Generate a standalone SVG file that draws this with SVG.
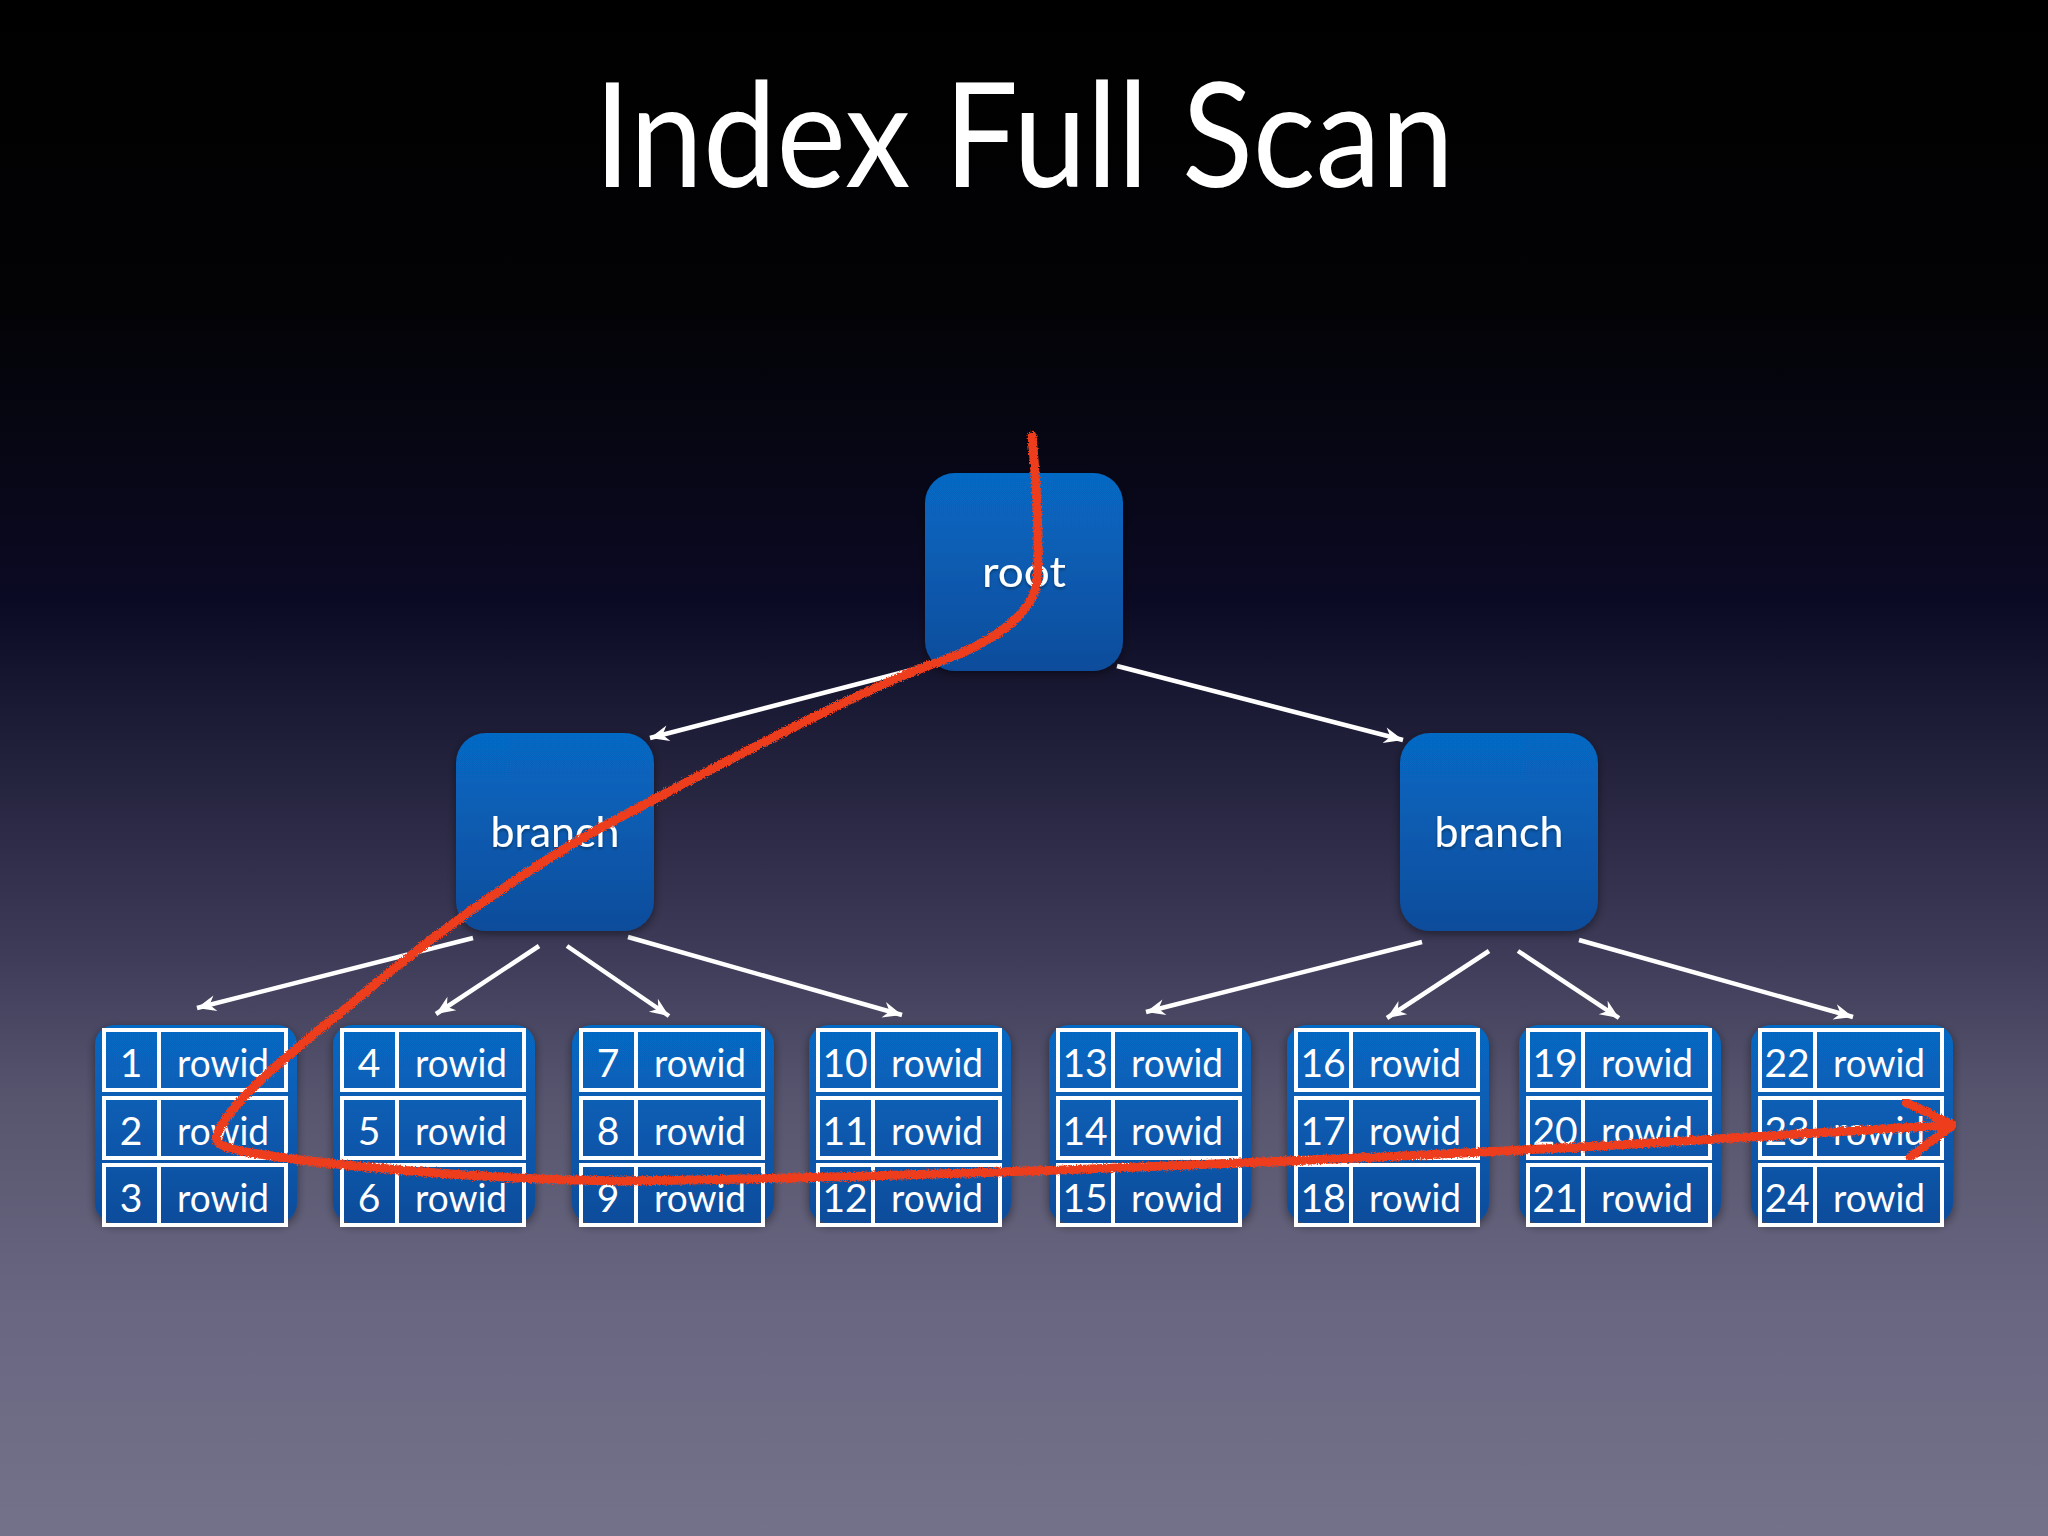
<svg xmlns="http://www.w3.org/2000/svg" width="2048" height="1536" viewBox="0 0 2048 1536">
<defs>
  <linearGradient id="bg" x1="0" y1="0" x2="0" y2="1">
    <stop offset="0" stop-color="#000000"/>
    <stop offset="0.2" stop-color="#030306"/>
    <stop offset="0.39" stop-color="#0b0a24"/>
    <stop offset="0.46" stop-color="#1b1a34"/>
    <stop offset="0.62" stop-color="#3d3b58"/>
    <stop offset="0.72" stop-color="#58566f"/>
    <stop offset="0.85" stop-color="#686680"/>
    <stop offset="1" stop-color="#74718b"/>
  </linearGradient>
  <linearGradient id="box" x1="0" y1="0" x2="0" y2="1">
    <stop offset="0" stop-color="#0669c4"/>
    <stop offset="1" stop-color="#0a4c9b"/>
  </linearGradient>
  <filter id="shadow" x="-20%" y="-20%" width="140%" height="140%">
    <feDropShadow dx="0" dy="3" stdDeviation="5" flood-color="#000000" flood-opacity="0.45"/>
  </filter>
  <filter id="tshadow" x="-20%" y="-30%" width="140%" height="160%">
    <feDropShadow dx="0" dy="2" stdDeviation="1.5" flood-color="#000000" flood-opacity="0.35"/>
  </filter>
  <filter id="crayon" x="-5%" y="-5%" width="110%" height="110%">
    <feTurbulence type="fractalNoise" baseFrequency="0.8" numOctaves="2" seed="3" result="n"/>
    <feDisplacementMap in="SourceGraphic" in2="n" scale="5" xChannelSelector="R" yChannelSelector="G"/>
  </filter>
  <marker id="arrow" markerUnits="userSpaceOnUse" markerWidth="24" markerHeight="20" viewBox="-20 -10 24 20" refX="0" refY="0" orient="auto">
    <path d="M0,0 L-19,-8 L-13,0 L-19,8 Z" fill="#ffffff"/>
  </marker>
  <style>
    .title { font-family: Lato, "Open Sans", "DejaVu Sans", sans-serif; font-size: 146px; fill: #ffffff; }
    .node { fill: url(#box); filter: url(#shadow); }
    .label { font-family: Lato, "Open Sans", "DejaVu Sans", sans-serif; font-size: 42px; fill: #ffffff; text-anchor: middle; filter: url(#tshadow); }
    .cell { font-family: Lato, "Open Sans", "DejaVu Sans", sans-serif; font-size: 39px; fill: #ffffff; text-anchor: middle; }
    .row { fill: none; stroke: #ffffff; stroke-width: 4; }
    .conn { stroke: #ffffff; stroke-width: 4.5; fill: none; marker-end: url(#arrow); }
    .scan { stroke: #ee3e1c; stroke-width: 9; fill: none; stroke-linecap: round; stroke-linejoin: round; filter: url(#crayon); }
  </style>
  <g id="leafgrid">
    <rect x="-7" y="-3" width="202" height="198" rx="20" fill="url(#box)" filter="url(#shadow)"/>
    <rect class="row" x="2" y="2" width="182" height="60"/>
    <line class="row" x1="57" y1="2" x2="57" y2="62"/>
    <rect class="row" x="2" y="70" width="182" height="60"/>
    <line class="row" x1="57" y1="70" x2="57" y2="130"/>
    <rect class="row" x="2" y="137" width="182" height="60"/>
    <line class="row" x1="57" y1="137" x2="57" y2="197"/>
  </g>
</defs>

<rect x="0" y="0" width="2048" height="1536" fill="url(#bg)"/>

<text class="title" x="1024" y="187" text-anchor="middle" textLength="860" lengthAdjust="spacingAndGlyphs">Index Full Scan</text>

<g id="connectors">
  <line class="conn" x1="927" y1="666" x2="650" y2="738"/>
  <line class="conn" x1="1117" y1="666" x2="1403" y2="740"/>
  <line class="conn" x1="473" y1="938" x2="197" y2="1008"/>
  <line class="conn" x1="539" y1="946" x2="436" y2="1014"/>
  <line class="conn" x1="567" y1="946" x2="669" y2="1016"/>
  <line class="conn" x1="628" y1="937" x2="902" y2="1015"/>
  <line class="conn" x1="1422" y1="942" x2="1146" y2="1012"/>
  <line class="conn" x1="1489" y1="951" x2="1387" y2="1018"/>
  <line class="conn" x1="1518" y1="951" x2="1619" y2="1018"/>
  <line class="conn" x1="1579" y1="940" x2="1853" y2="1017"/>
</g>

<g id="root">
  <rect class="node" x="925" y="473" width="198" height="198" rx="30"/>
  <text class="label" x="1024" y="587" textLength="84" lengthAdjust="spacingAndGlyphs">root</text>
</g>
<g id="branch-left">
  <rect class="node" x="456" y="733" width="198" height="198" rx="30"/>
  <text class="label" x="555" y="847" textLength="129" lengthAdjust="spacingAndGlyphs">branch</text>
</g>
<g id="branch-right">
  <rect class="node" x="1400" y="733" width="198" height="198" rx="30"/>
  <text class="label" x="1499" y="847" textLength="129" lengthAdjust="spacingAndGlyphs">branch</text>
</g>

<g id="leaf1" transform="translate(102,1028)">
  <use href="#leafgrid"/>
  <text class="cell" x="29" y="49">1</text><text class="cell" x="121" y="49" textLength="92" lengthAdjust="spacingAndGlyphs">rowid</text>
  <text class="cell" x="29" y="117">2</text><text class="cell" x="121" y="117" textLength="92" lengthAdjust="spacingAndGlyphs">rowid</text>
  <text class="cell" x="29" y="184">3</text><text class="cell" x="121" y="184" textLength="92" lengthAdjust="spacingAndGlyphs">rowid</text>
</g>
<g id="leaf2" transform="translate(340,1028)">
  <use href="#leafgrid"/>
  <text class="cell" x="29" y="49">4</text><text class="cell" x="121" y="49" textLength="92" lengthAdjust="spacingAndGlyphs">rowid</text>
  <text class="cell" x="29" y="117">5</text><text class="cell" x="121" y="117" textLength="92" lengthAdjust="spacingAndGlyphs">rowid</text>
  <text class="cell" x="29" y="184">6</text><text class="cell" x="121" y="184" textLength="92" lengthAdjust="spacingAndGlyphs">rowid</text>
</g>
<g id="leaf3" transform="translate(579,1028)">
  <use href="#leafgrid"/>
  <text class="cell" x="29" y="49">7</text><text class="cell" x="121" y="49" textLength="92" lengthAdjust="spacingAndGlyphs">rowid</text>
  <text class="cell" x="29" y="117">8</text><text class="cell" x="121" y="117" textLength="92" lengthAdjust="spacingAndGlyphs">rowid</text>
  <text class="cell" x="29" y="184">9</text><text class="cell" x="121" y="184" textLength="92" lengthAdjust="spacingAndGlyphs">rowid</text>
</g>
<g id="leaf4" transform="translate(816,1028)">
  <use href="#leafgrid"/>
  <text class="cell" x="29" y="49">10</text><text class="cell" x="121" y="49" textLength="92" lengthAdjust="spacingAndGlyphs">rowid</text>
  <text class="cell" x="29" y="117">11</text><text class="cell" x="121" y="117" textLength="92" lengthAdjust="spacingAndGlyphs">rowid</text>
  <text class="cell" x="29" y="184">12</text><text class="cell" x="121" y="184" textLength="92" lengthAdjust="spacingAndGlyphs">rowid</text>
</g>
<g id="leaf5" transform="translate(1056,1028)">
  <use href="#leafgrid"/>
  <text class="cell" x="29" y="49">13</text><text class="cell" x="121" y="49" textLength="92" lengthAdjust="spacingAndGlyphs">rowid</text>
  <text class="cell" x="29" y="117">14</text><text class="cell" x="121" y="117" textLength="92" lengthAdjust="spacingAndGlyphs">rowid</text>
  <text class="cell" x="29" y="184">15</text><text class="cell" x="121" y="184" textLength="92" lengthAdjust="spacingAndGlyphs">rowid</text>
</g>
<g id="leaf6" transform="translate(1294,1028)">
  <use href="#leafgrid"/>
  <text class="cell" x="29" y="49">16</text><text class="cell" x="121" y="49" textLength="92" lengthAdjust="spacingAndGlyphs">rowid</text>
  <text class="cell" x="29" y="117">17</text><text class="cell" x="121" y="117" textLength="92" lengthAdjust="spacingAndGlyphs">rowid</text>
  <text class="cell" x="29" y="184">18</text><text class="cell" x="121" y="184" textLength="92" lengthAdjust="spacingAndGlyphs">rowid</text>
</g>
<g id="leaf7" transform="translate(1526,1028)">
  <use href="#leafgrid"/>
  <text class="cell" x="29" y="49">19</text><text class="cell" x="121" y="49" textLength="92" lengthAdjust="spacingAndGlyphs">rowid</text>
  <text class="cell" x="29" y="117">20</text><text class="cell" x="121" y="117" textLength="92" lengthAdjust="spacingAndGlyphs">rowid</text>
  <text class="cell" x="29" y="184">21</text><text class="cell" x="121" y="184" textLength="92" lengthAdjust="spacingAndGlyphs">rowid</text>
</g>
<g id="leaf8" transform="translate(1758,1028)">
  <use href="#leafgrid"/>
  <text class="cell" x="29" y="49">22</text><text class="cell" x="121" y="49" textLength="92" lengthAdjust="spacingAndGlyphs">rowid</text>
  <text class="cell" x="29" y="117">23</text><text class="cell" x="121" y="117" textLength="92" lengthAdjust="spacingAndGlyphs">rowid</text>
  <text class="cell" x="29" y="184">24</text><text class="cell" x="121" y="184" textLength="92" lengthAdjust="spacingAndGlyphs">rowid</text>
</g>

<g id="scan-path">
  <path class="scan" d="M1032,436 C1036,480 1040,540 1037,580 C1034,615 990,645 930,665 C860,690 700,775 600,828 C500,885 420,945 350,1005 C300,1045 230,1100 217,1135 C212,1148 240,1152 300,1160 C420,1174 520,1180 620,1181 C900,1178 1300,1162 1600,1146 L1950,1125"/>
  <path class="scan" d="M1905,1102 L1953,1125 L1910,1157"/>
</g>
</svg>
